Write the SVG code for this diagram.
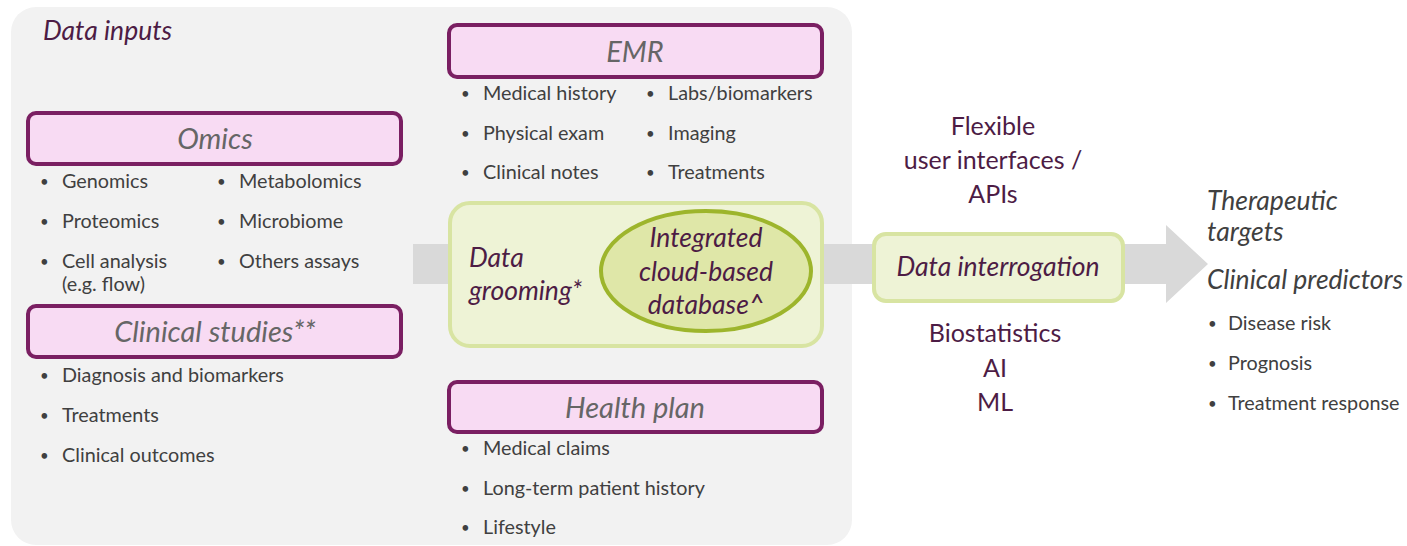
<svg xmlns="http://www.w3.org/2000/svg" width="1407" height="546" viewBox="0 0 1407 546">
<style>
text{font-family:Lato,"Open Sans","Liberation Sans",sans-serif}
.hdr{fill:#f8dbf3;stroke:#7a1f62;stroke-width:4}
.hdrt{font-size:29px;font-style:italic;fill:#666;text-anchor:middle}
.b{font-size:19.8px;fill:#404040}
.dot{font-size:15px;fill:#404040}
.grn{fill:#eef3d6;stroke:#d8e4a2;stroke-width:4}
.pi{font-size:26.5px;font-style:italic;fill:#4d1c45}
.pu{font-size:25px;fill:#4d1c45;text-anchor:middle}
.gi{font-size:26.5px;font-style:italic;fill:#404040}
</style>
<rect width="1407" height="546" fill="#fff"/>
<rect id="panel" x="11" y="7" width="841" height="538" rx="25" fill="#f2f2f2"/>
<g id="connectors">
<polygon points="413,244 1166,244 1166,225 1208,264 1166,303 1166,284 413,284" fill="#d9d9d9"/>
</g>
<text class="pi" x="43" y="40">Data inputs</text>
<g id="omics">
<rect class="hdr" x="28" y="113" width="373" height="51" rx="8"/>
<text class="hdrt" x="215" y="149">Omics</text>
<g class="dot">
<text x="40" y="187">•</text><text x="40" y="227">•</text><text x="40" y="267">•</text>
<text x="217" y="187">•</text><text x="217" y="227">•</text><text x="217" y="267">•</text>
</g>
<g class="b">
<text x="62" y="188">Genomics</text>
<text x="62" y="228">Proteomics</text>
<text x="62" y="268">Cell analysis</text>
<text x="62" y="291">(e.g. flow)</text>
<text x="239" y="188">Metabolomics</text>
<text x="239" y="228">Microbiome</text>
<text x="239" y="268">Others assays</text>
</g>
</g>
<g id="clinical-studies">
<rect class="hdr" x="28" y="306" width="373" height="51" rx="8"/>
<text class="hdrt" x="215" y="342">Clinical studies**</text>
<g class="dot">
<text x="40" y="381">•</text><text x="40" y="421">•</text><text x="40" y="461">•</text>
</g>
<g class="b">
<text x="62" y="382">Diagnosis and biomarkers</text>
<text x="62" y="422">Treatments</text>
<text x="62" y="462">Clinical outcomes</text>
</g>
</g>
<g id="emr">
<rect class="hdr" x="449" y="25" width="373" height="52" rx="8"/>
<text class="hdrt" x="635" y="62">EMR</text>
<g class="dot">
<text x="461" y="99">•</text><text x="461" y="139">•</text><text x="461" y="178">•</text>
<text x="646" y="99">•</text><text x="646" y="139">•</text><text x="646" y="178">•</text>
</g>
<g class="b">
<text x="483" y="100">Medical history</text>
<text x="483" y="140">Physical exam</text>
<text x="483" y="179">Clinical notes</text>
<text x="668" y="100">Labs/biomarkers</text>
<text x="668" y="140">Imaging</text>
<text x="668" y="179">Treatments</text>
</g>
</g>
<g id="data-grooming">
<rect class="grn" x="450" y="203" width="372" height="143" rx="20"/>
<text class="pi" x="469" y="267">Data</text>
<text class="pi" x="469" y="300">grooming*</text>
</g>
<g id="integrated-database">
<ellipse cx="706" cy="271" rx="105" ry="60" fill="#dfe7a8" stroke="#9db52c" stroke-width="4"/>
<text class="pi" text-anchor="middle" x="706" y="247">Integrated</text>
<text class="pi" text-anchor="middle" x="706" y="281">cloud-based</text>
<text class="pi" text-anchor="middle" x="706" y="314">database^</text>
</g>
<g id="health-plan">
<rect class="hdr" x="449" y="382" width="373" height="50" rx="8"/>
<text class="hdrt" x="635" y="418">Health plan</text>
<g class="dot">
<text x="461" y="454">•</text><text x="461" y="494">•</text><text x="461" y="533">•</text>
</g>
<g class="b">
<text x="483" y="455">Medical claims</text>
<text x="483" y="495">Long-term patient history</text>
<text x="483" y="534">Lifestyle</text>
</g>
</g>
<g id="interfaces">
<text class="pu" x="993" y="135">Flexible</text>
<text class="pu" x="993" y="169">user interfaces /</text>
<text class="pu" x="993" y="203">APIs</text>
</g>
<g id="data-interrogation">
<rect class="grn" x="874" y="234" width="249" height="67" rx="12"/>
<text class="pi" text-anchor="middle" x="998" y="276">Data interrogation</text>
</g>
<g id="methods">
<text class="pu" x="995" y="342">Biostatistics</text>
<text class="pu" x="995" y="377">AI</text>
<text class="pu" x="995" y="411">ML</text>
</g>
<g id="outputs">
<text class="gi" x="1207" y="210">Therapeutic</text>
<text class="gi" x="1207" y="241">targets</text>
<text class="gi" x="1207" y="289">Clinical predictors</text>
<g class="dot">
<text x="1208" y="329">•</text><text x="1208" y="369">•</text><text x="1208" y="409">•</text>
</g>
<g class="b">
<text x="1228" y="330">Disease risk</text>
<text x="1228" y="370">Prognosis</text>
<text x="1228" y="410">Treatment response</text>
</g>
</g>
</svg>
